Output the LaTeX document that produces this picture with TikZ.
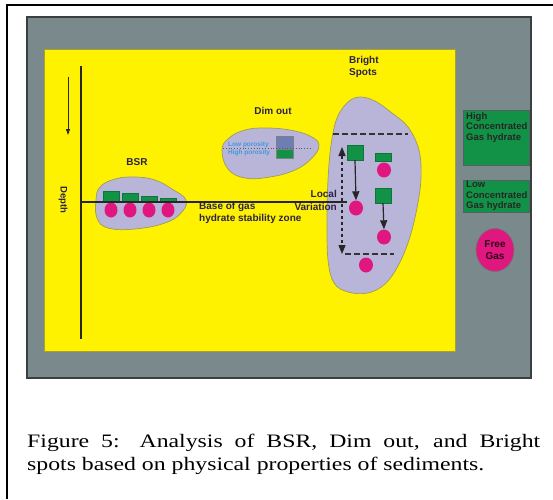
\documentclass[tikz,border=0pt]{standalone}
\usepackage{fontspec}
\setmainfont{Liberation Serif}
\newfontfamily\labfont{Liberation Sans}
\newfontfamily\capfont[FakeStretch=1.25]{Liberation Serif}
\usetikzlibrary{arrows.meta,shapes.geometric}
\definecolor{bggrey}{HTML}{7A898C}
\definecolor{greyedge}{HTML}{3C3F40}
\definecolor{ylw}{HTML}{FFF200}
\definecolor{yedge}{HTML}{A8A030}
\definecolor{blob}{HTML}{B8B5D9}
\definecolor{blobedge}{HTML}{A09C55}
\definecolor{grn}{HTML}{119247}
\definecolor{mag}{HTML}{E0177F}
\definecolor{labtext}{HTML}{2B2347}
\definecolor{poro}{HTML}{3C9BDD}
\definecolor{bluerect}{HTML}{6F7DB5}
\begin{document}
\begin{tikzpicture}[x=1pt,y=-1pt,
  lbl/.style={font=\labfont\bfseries\fontsize{10}{11.5}\selectfont, text=labtext, inner sep=0pt, align=left},
  boxlbl/.style={font=\labfont\bfseries\fontsize{9.5}{10.5}\selectfont, text=black!85, align=left},
  porolbl/.style={font=\labfont\bfseries\fontsize{6.5}{7}\selectfont, text=poro, inner sep=0pt, anchor=west},
  blobshape/.style={fill=blob, draw=blobedge, line width=0.7pt},
  grect/.style={rectangle, fill=grn, draw=grn!80!black, line width=0.3pt, inner sep=0pt, minimum width=16pt},
  dot/.style={ellipse, fill=mag, inner sep=0pt, minimum width=13pt, minimum height=15pt},
  varrow/.style={line width=1.2pt, draw=black!85, -{Triangle[length=9pt,width=7pt]}},
  legbox/.style={rectangle, fill=grn, draw=bggrey!70!black, line width=0.6pt, inner sep=3pt, minimum width=66pt, anchor=north west, text width=60pt}
]
\useasboundingbox (0,0) rectangle (553,499);
\fill[white] (0,0) rectangle (553,499);
% page frame
\draw[line width=2pt] (7,499) -- (7,5) -- (553,5);
% panels
\draw[fill=bggrey, draw=greyedge, line width=1.5pt] (27,17) rectangle (531,378);
\draw[fill=ylw, draw=yedge, line width=0.6pt] (44,49) rectangle (455,351);

% blobs
\draw[blobshape] plot[smooth cycle, tension=0.7] coordinates {(96,200) (100,187) (115,179) (135,177) (155,180) (172,189) (186,200) (181,213) (165,223) (135,229) (108,228) (97,218)};
\draw[blobshape] plot[smooth cycle, tension=0.7] coordinates {(222,150) (229,138) (245,130) (265,128) (290,130) (310,136) (319,145) (312,158) (295,170) (270,177) (245,178) (228,169)};
\draw[blobshape] plot[smooth cycle, tension=0.6] coordinates {(360,97) (375,101) (392,113) (408,127) (419,150) (421,178) (417,208) (409,240) (398,266) (385,284) (368,293) (348,292) (334,283) (328,260) (327,220) (328,180) (331,145) (337,118) (348,102)};

% depth axis
\coordinate (axtop) at (81,66);
\coordinate (axbot) at (81,339);
\draw[line width=1.5pt, draw=black!85] (axtop) -- (axbot);
\coordinate (darrtop) at (68,77);
\coordinate (darrbot) at (68,135);
\draw[line width=0.8pt, draw=black!85, -{Triangle[length=6pt,width=4pt]}] (darrtop) -- (darrbot);
\node[lbl, rotate=-90, font=\labfont\bfseries\fontsize{9.5}{10}\selectfont] (depth) at (63,200) {Depth};

% BSR
\node[lbl] (bsrlab) at (137,162) {BSR};
\node[grect, minimum height=11pt, anchor=south] (b1) at (111,202) {};
\node[grect, minimum height=9pt, anchor=south] (b2) at (130,202) {};
\node[grect, minimum height=6pt, anchor=south] (b3) at (149,202) {};
\node[grect, minimum height=4pt, anchor=south] (b4) at (168,202) {};
\node[dot] (c1) at (111,210) {};
\node[dot] (c2) at (130,210) {};
\node[dot] (c3) at (149,210) {};
\node[dot] (c4) at (168,210) {};
\coordinate (bgend) at (347,202);
\coordinate (bgstart) at (81,202);
\draw[line width=1.5pt, draw=black!85] (bgstart) -- (bgend);
\node[lbl, anchor=north west] (bgas) at (199,202.5) {Base of gas\\hydrate stability zone};

% Dim out
\node[lbl] (dimlab) at (273,111) {Dim out};
\node[rectangle, fill=bluerect, draw=black!50, line width=0.4pt, minimum width=17pt, minimum height=13pt, inner sep=0pt, anchor=north west] (lowp) at (276,136) {};
\node[rectangle, fill=grn, draw=black!50, line width=0.4pt, minimum width=17pt, minimum height=9pt, inner sep=0pt, anchor=north west] (highp) at (276,149) {};
\coordinate (dotl) at (223,148.5);
\coordinate (dotr) at (311,148.5);
\draw[dotted, line width=0.8pt, draw=black!65] (dotl) -- (dotr);
\node[porolbl] (lowlab) at (228,145) {Low porosity};
\node[porolbl] (highlab) at (228,153) {High porosity};

% Bright spots
\node[lbl, anchor=north west] (brlab) at (349,56.5) {Bright\\Spots};
\coordinate (dt1) at (333,134);
\coordinate (dt2) at (408,134);
\draw[line width=2pt, draw=black!80, dash pattern=on 6pt off 3pt] (dt1) -- (dt2);
\coordinate (db1) at (345,254);
\coordinate (db2) at (394,254);
\draw[line width=2pt, draw=black!80, dash pattern=on 6pt off 3pt] (db1) -- (db2);
\coordinate (dat) at (342,147);
\coordinate (dab) at (342,254);
\draw[line width=1.3pt, draw=black!85, dash pattern=on 3pt off 3pt, {Triangle[length=9pt,width=7pt]}-{Triangle[length=9pt,width=7pt]}] (dat) -- (dab);
\node[grect, minimum height=15pt] (s1) at (355,152.5) {};
\node[dot, minimum width=14pt] (d1) at (356,208) {};
\draw[varrow] (s1.south) -- (d1.north);
\node[grect, minimum height=8pt] (s2) at (383,157.5) {};
\node[dot, minimum width=14pt] (d2) at (384,170) {};
\node[grect, minimum height=15pt] (s3) at (383,195.5) {};
\node[dot, minimum width=14pt] (d3) at (384,237) {};
\draw[varrow] (s3.south) -- (d3.north);
\node[dot, minimum width=14pt] (d4) at (366,265) {};
\node[lbl, anchor=east] (loc) at (337,194) {Local};
\node[lbl, anchor=east] (var) at (337,207) {Variation};

% legend
\node[legbox, minimum height=55pt] (hi) at (463,110) {};
\node[boxlbl, anchor=north west, inner sep=0pt] (hitxt) at (466,112) {High\\Concentrated\\Gas hydrate};
\node[legbox, minimum height=32pt] (lo) at (463,180) {};
\node[boxlbl, anchor=north west, inner sep=0pt] (lotxt) at (466,181) {Low\\Concentrated\\Gas hydrate};
\node[ellipse, fill=mag, draw=black!55, line width=0.6pt, minimum width=38pt, minimum height=43pt, inner sep=0pt, align=center, font=\labfont\bfseries\fontsize{10}{12}\selectfont, text=black!80!mag] (free) at (495,250) {Free\\Gas};

% caption
\node[anchor=north west, inner sep=0pt, text width=513pt, align=justify, font=\capfont\fontsize{19}{23}\selectfont] (cap) at (27,434) {Figure 5: Analysis of BSR, Dim out, and Bright\linebreak spots based on physical properties of sediments.};
\end{tikzpicture}
\end{document}
